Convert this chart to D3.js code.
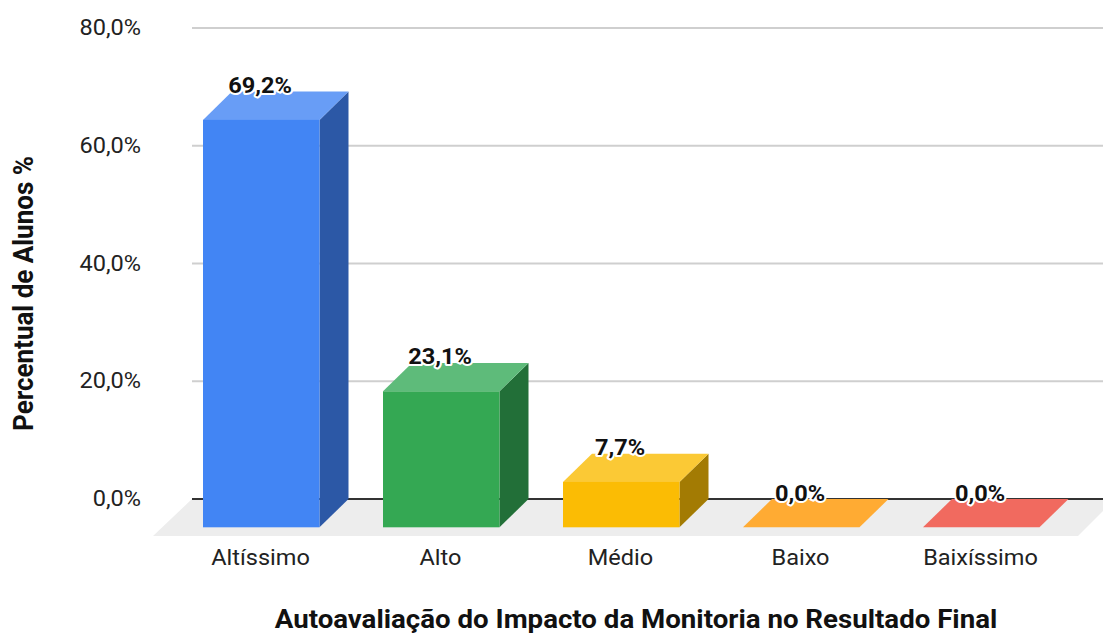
<!DOCTYPE html>
<html><head><meta charset="utf-8">
<script src="https://cdn.jsdelivr.net/npm/d3@7"></script>
<style>html,body{margin:0;padding:0;background:#fff}svg{display:block}text{font-family:Roboto,sans-serif}</style>
</head><body><svg id="c" width="1103" height="634"></svg>
<script>
const categories=["Altíssimo","Alto","Médio","Baixo","Baixíssimo"];
const values=[69.2,23.1,7.7,0,0];
const valueLabels=["69,2%","23,1%","7,7%","0,0%","0,0%"];
const ticks=[0,20,40,60,80];
const front=["#4285f4","#34a853","#fbbc04","#ffab33","#f16a5f"];
const topC=["#689df6","#5ebb7a","#fbc935","#ffab33","#f16a5f"];
const side=["#2c58a6","#226f38","#a37b03","#ffab33","#f16a5f"];

const svg=d3.select("#c");
const W=116.5,dx=29,dy=28.3,SX=1.07;
const y=d3.scaleLinear().domain([0,80]).range([499,28]);
const x=d3.scalePoint().domain(categories).range([261.25,981.25]);
const path=p=>"M"+p.map(q=>q.join(",")).join("L")+"Z";

// floor
svg.append("path").attr("d",path([[192,499],[1103,499],[1103,511],[1078,536],[153,536]])).attr("fill","#ededed");
// grid
svg.selectAll(".g").data(ticks.slice(1)).join("line").attr("x1",192).attr("x2",1103)
 .attr("y1",d=>y(d)).attr("y2",d=>y(d)).attr("stroke","#cfcfcf").attr("stroke-width",2);
svg.append("line").attr("x1",192).attr("x2",1103).attr("y1",y(0)).attr("y2",y(0)).attr("stroke","#333").attr("stroke-width",2);
// y ticks
svg.selectAll(".t").data(ticks).join("text")
 .attr("transform",d=>`translate(141,${y(d)+7}) scale(${SX},1)`).attr("text-anchor","end")
 .attr("font-size",22).attr("fill","#222").text(d=>d3.format(".1f")(d).replace(".",",")+"%");
// bars
categories.forEach((c,i)=>{
  const l=x(c)-W/2,r=l+W,t=y(values[i]),b=y(0);
  svg.append("path").attr("d",path([[r,t+dy],[r+dx,t],[r+dx,b],[r,b+dy]])).attr("fill",side[i]);
  svg.append("path").attr("d",path([[l,t+dy],[l+dx,t],[r+dx,t],[r,t+dy]])).attr("fill",topC[i]);
  svg.append("rect").attr("x",l).attr("y",t+dy).attr("width",W).attr("height",b-t).attr("fill",front[i]);
});
// value labels
categories.forEach((c,i)=>{
  svg.append("text").attr("transform",`translate(${x(c)-1.25},${y(values[i])+1.5}) scale(${SX},1)`).attr("text-anchor","middle")
   .attr("font-size",22).attr("font-weight",700).attr("fill","#111")
   .attr("stroke","#fff").attr("stroke-width",4).attr("stroke-linejoin","round").attr("paint-order","stroke")
   .text(valueLabels[i]);
});
// x labels
svg.selectAll(".x").data(categories).join("text")
 .attr("transform",d=>`translate(${x(d)-0.75},565) scale(${SX},1)`).attr("text-anchor","middle")
 .attr("font-size",22).attr("fill","#222").text(d=>d);
// titles
svg.append("text").attr("transform",`translate(636,627.5) scale(1.064,1)`).attr("text-anchor","middle").attr("font-size",26).attr("font-weight",700).attr("fill","#111")
 .text("Autoavaliação do Impacto da Monitoria no Resultado Final");
svg.append("text").attr("transform",`translate(32.5,293.5) rotate(-90) scale(1,${SX})`).attr("text-anchor","middle").attr("font-size",26).attr("font-weight",700).attr("fill","#111")
 .text("Percentual de Alunos %");
</script></body></html>
